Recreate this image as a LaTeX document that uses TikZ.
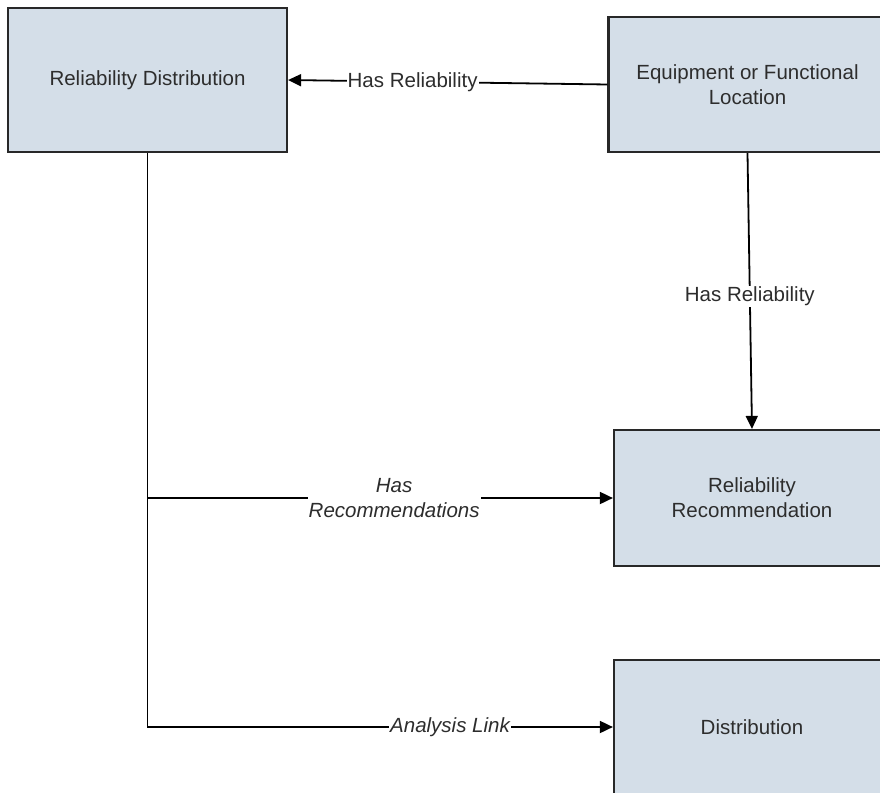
\documentclass[tikz,border=0pt]{standalone}
\usepackage{fontspec}
\setmainfont{Liberation Sans}
\usetikzlibrary{arrows.meta}
\definecolor{boxfill}{RGB}{212,222,232}
\definecolor{boxline}{RGB}{40,40,40}
\definecolor{boxtext}{RGB}{45,45,45}
\tikzstyle{entity} = [rectangle, minimum width=278pt, minimum height=135pt, text centered, align=center, draw=boxline, line width=2.2pt, fill=boxfill, text=boxtext, font=\fontsize{20.5}{25}\selectfont]
\tikzstyle{link} = [line width=1.8pt, draw=black]
\tikzstyle{arrow} = [link, -{Triangle[length=13pt,width=12pt]}]
\tikzstyle{lbl} = [fill=white, inner sep=1pt, align=center, text=boxtext, font=\fontsize{20.5}{25}\selectfont]

\begin{document}
\begin{tikzpicture}[node distance=600pt]

\useasboundingbox (0pt,0pt) rectangle (880pt,-792pt);

% Nodes
\node (reldist) [entity, minimum width=279pt, minimum height=144pt] at (147.5pt,-80pt) {Reliability Distribution};
\node (equip) [entity, right of=reldist, yshift=-4.5pt] {Equipment or Functional\\Location};
\node (relrec) [entity, below of=equip, node distance=413.5pt, xshift=4.5pt, minimum width=276pt, minimum height=136pt] {Reliability\\Recommendation};
\node (dist) [entity, below of=relrec, node distance=229pt, minimum width=276pt, minimum height=134pt] {Distribution};

% Arrows
\draw [arrow] (equip.west) -- (reldist.east) node[pos=0.61, lbl] {Has Reliability};
\draw [arrow] (equip.south) -- (relrec.north) node[pos=0.52, lbl] {Has Reliability};
\draw [arrow] (reldist.south) |- (relrec.west) node[pos=0.765, lbl, font=\fontsize{20.5}{25}\selectfont\itshape] {Has\\Recommendations};
\draw [arrow] (reldist.south) |- (dist.west) node[pos=0.825, lbl, font=\fontsize{20.5}{25}\selectfont\itshape] {Analysis Link};

\end{tikzpicture}
\end{document}
